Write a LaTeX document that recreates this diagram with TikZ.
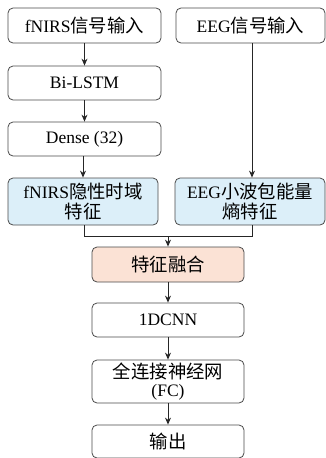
\documentclass[tikz,border=0pt]{standalone}
\usepackage{fontspec}
\setmainfont{Liberation Serif}
\newfontfamily\cjk{Noto Sans CJK SC}[Scale=1.05]
\usetikzlibrary{arrows.meta}
\definecolor{edge}{HTML}{4A4A4A}
\definecolor{featblue}{HTML}{DCEFF9}
\definecolor{fusepink}{HTML}{FBE2D5}
\tikzset{
  box/.style={draw=edge, line width=0.8pt, rounded corners=5pt, fill=white,
    align=center, inner sep=0pt, font=\fontsize{17.5}{19.5}\selectfont},
  conn/.style={draw=black!85, line width=0.9pt},
  arr/.style={conn, -{Stealth[length=7pt,width=6pt]}}
}
\newcommand{\zh}[1]{{\cjk #1}}
\begin{document}
\begin{tikzpicture}[x=1pt,y=-1pt]
\useasboundingbox (0,0) rectangle (326,458);
% left column
\node[box, minimum width=153pt, minimum height=35pt] (fin) at (84.5,25.5) {fNIRS\zh{信号输入}};
\node[box, minimum width=153pt, minimum height=34pt] (lstm) at (84.5,83) {Bi-LSTM};
\node[box, minimum width=153pt, minimum height=34pt] (dense) at (84.5,139) {Dense (32)};
\node[box, fill=featblue, minimum width=150pt, minimum height=47pt] (ff) at (83,201.5) {fNIRS\zh{隐性时域}\\\zh{特征}};
% right column
\node[box, minimum width=149pt, minimum height=35pt] (ein) at (250.5,25.5) {EEG\zh{信号输入}};
\node[box, fill=featblue, minimum width=150pt, minimum height=47pt] (ef) at (250,201.5) {EEG\zh{小波包能量}\\\zh{熵特征}};
% lower column
\node[box, fill=fusepink, minimum width=152pt, minimum height=35pt] (fuse) at (168,264.5) {\zh{特征融合}};
\node[box, minimum width=152pt, minimum height=34pt] (cnn) at (168,320) {1DCNN};
\node[box, minimum width=152pt, minimum height=43pt] (fc) at (168,381.5) {\zh{全连接神经网}\\[-1pt](FC)};
\node[box, minimum width=152pt, minimum height=33pt] (out) at (168,441.5) {\zh{输出}};
% connectors
\draw[arr] (fin) -- (lstm);
\draw[arr] (lstm) -- (dense);
\draw[arr] (dense.south -| ff.north) -- (ff.north);
\draw[arr] (ein.south -| 252,0) -- (ef.north -| 252,0);
\coordinate (mj) at (168,236);
\draw[conn] (ff.south -| 84,0) |- (mj);
\draw[conn] (ef.south -| 252,0) |- (mj);
\draw[arr] (mj) -- (fuse.north);
\draw[arr] (fuse) -- (cnn);
\draw[arr] (cnn) -- (fc);
\draw[arr] (fc) -- (out);
\end{tikzpicture}
\end{document}
